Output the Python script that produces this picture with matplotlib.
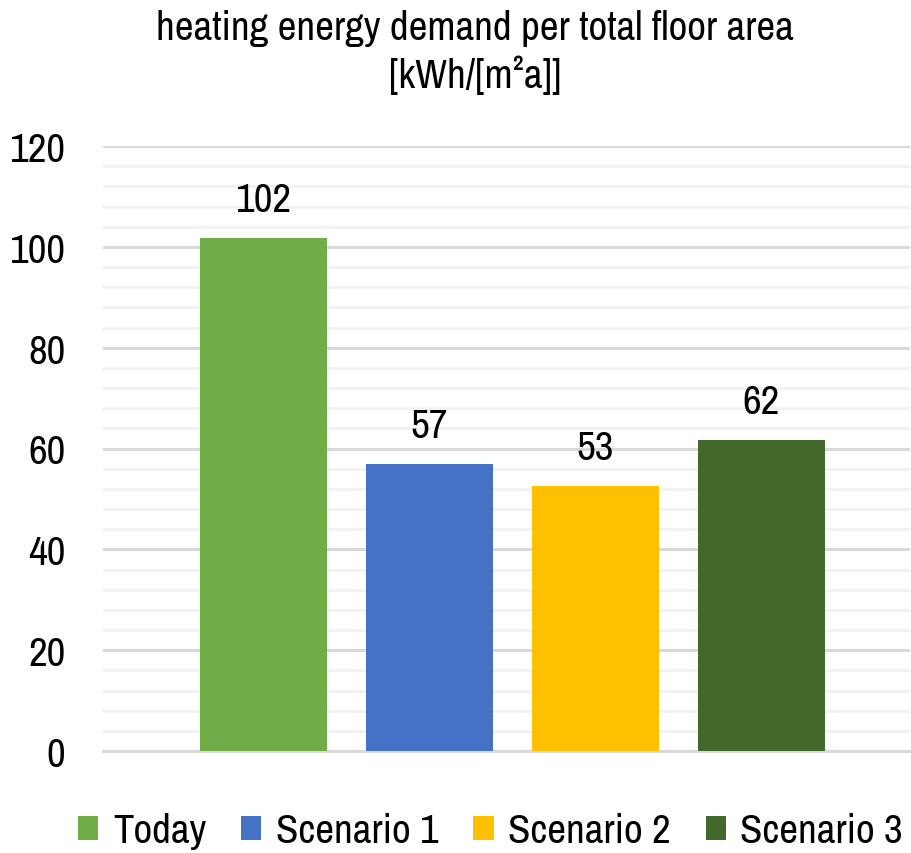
import matplotlib
matplotlib.use("Agg")
import matplotlib.pyplot as plt
from matplotlib.ticker import MultipleLocator
from matplotlib.patches import Patch

categories = ["Today", "Scenario 1", "Scenario 2", "Scenario 3"]
values = [101.8, 56.9, 52.6, 61.6]
labels = ["102", "57", "53", "62"]
colors = ["#70AD47", "#4472C4", "#FFC000", "#43682B"]
yticks = [0, 20, 40, 60, 80, 100, 120]

plt.rcParams['font.family'] = ['Archivo Narrow', 'PT Sans Narrow', 'Liberation Sans', 'DejaVu Sans']

FS = 29.5
fig = plt.figure(figsize=(9.11, 8.54), dpi=100)
W, H = 911, 854
ax = fig.add_axes([103 / W, 1 - 752 / H, (910 - 103) / W, (752 - 147) / H])

x = list(range(len(categories)))
bars = ax.bar(x, values, width=0.765, color=colors, zorder=3)
for xi, v, lab in zip(x, values, labels):
    ax.text(xi, v + 5.4, lab, ha='center', va='baseline', fontsize=FS, color='black')

ax.set_ylim(0, 120)
ax.set_xlim(-0.967, 3.895)
ax.yaxis.set_major_locator(MultipleLocator(20))
ax.yaxis.set_minor_locator(MultipleLocator(4))
ax.set_yticks(yticks)
ax.set_yticklabels([str(t) for t in yticks])
ax.tick_params(axis='y', which='both', length=0, labelsize=FS, pad=27)
ax.set_xticks([])
ax.grid(axis='y', which='major', color='#D9D9D9', linewidth=2.2, zorder=0)
ax.grid(axis='y', which='minor', color='#F2F2F2', linewidth=2.2, zorder=0)
for s in ['top', 'right', 'left']:
    ax.spines[s].set_visible(False)
ax.spines['bottom'].set_color('#D9D9D9')
ax.spines['bottom'].set_linewidth(2.2)

fig.text(475 / W, 1 - 40 / H, "heating energy demand per total floor area", ha='center', va='baseline', fontsize=FS)
fig.text(475 / W, 1 - 88 / H, "[kWh/[m²a]]", ha='center', va='baseline', fontsize=FS)

handles = [Patch(facecolor=c, label=l) for c, l in zip(colors, categories)]
fig.legend(handles=handles, loc='center', bbox_to_anchor=(0.5 + 35 / W, 1 - 832 / H), ncol=4, frameon=False,
           fontsize=FS, handlelength=0.5, handleheight=0.5, handletextpad=0.35, columnspacing=0.85,
           borderaxespad=0, borderpad=0)

fig.savefig("out.png", dpi=100)
